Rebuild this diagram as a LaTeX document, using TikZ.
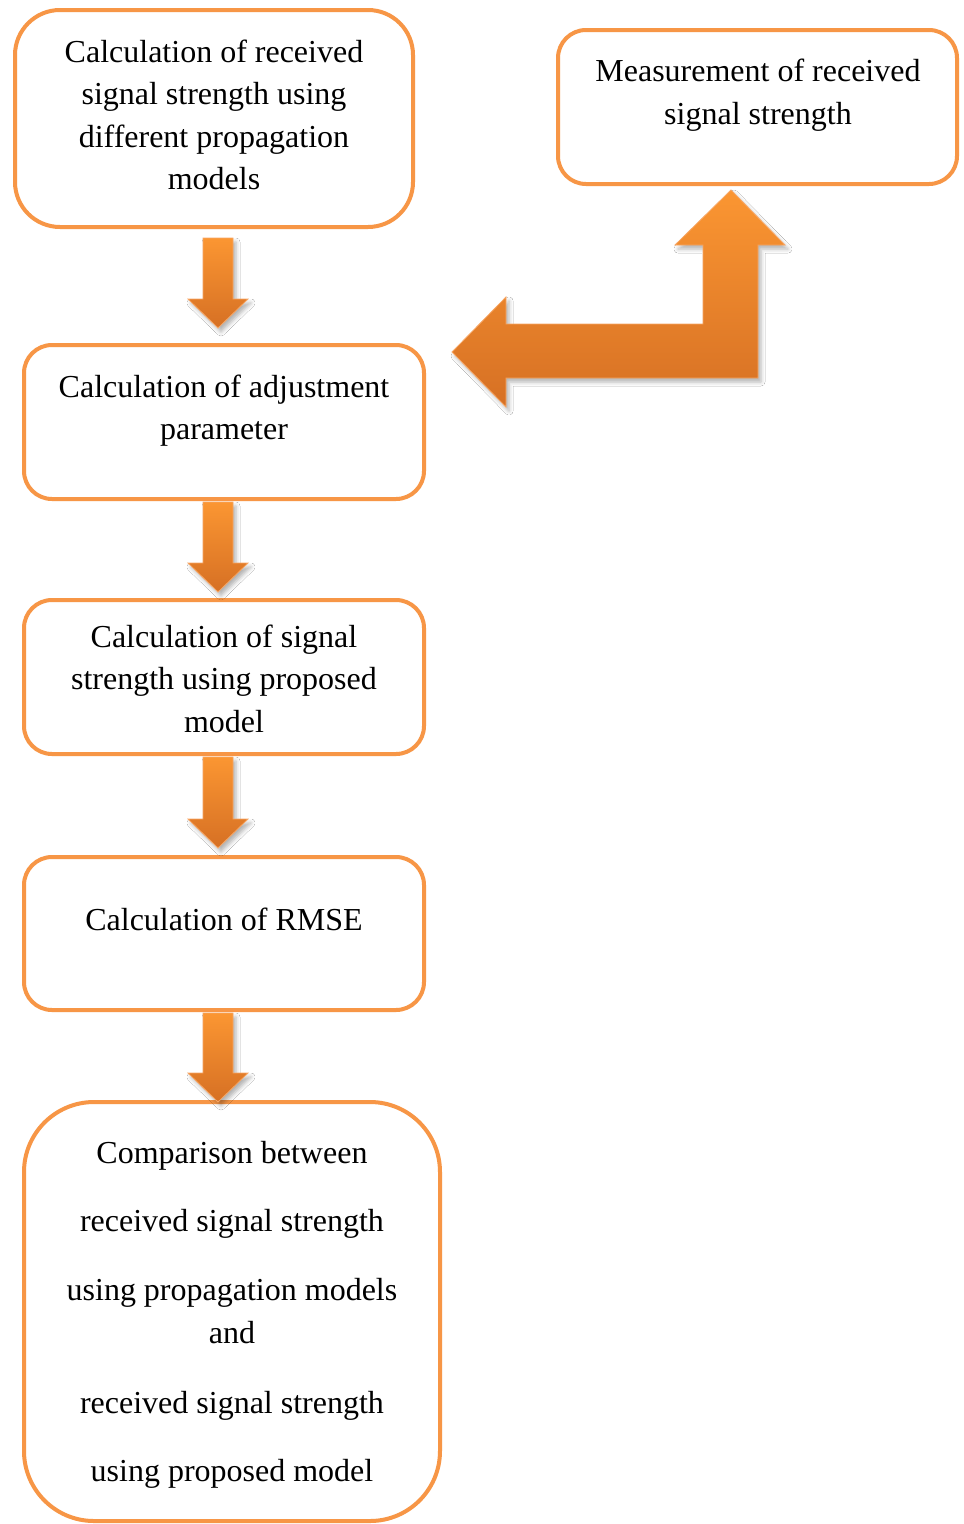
\documentclass[tikz,border=0pt]{standalone}
\usepackage{fontspec}
\setmainfont{Liberation Serif}
\usetikzlibrary{calc,shadows.blur}

\definecolor{boxorange}{HTML}{F79646}
\definecolor{arrowtop}{RGB}{251,150,50}
\definecolor{arrowbottom}{RGB}{214,112,36}
\definecolor{arrowedge}{RGB}{247,166,100}

% use the font's own interword space inside the text nodes
\newcommand\fontspaces{\spaceskip=0pt\xspaceskip=0pt\relax}

\tikzset{
  stagebox/.style={draw=boxorange, line width=4pt, fill=white,
    rounded corners=#1, inner sep=0pt, outer sep=0pt, shape=rectangle},
  stagetext/.style={anchor=base, text width=#1, inner sep=0pt,
    font=\fontsize{32}{42.5}\selectfont,
    execute at begin node={\centering\fontspaces}},
  fatarrow/.style={top color=arrowtop, bottom color=arrowbottom,
    draw=arrowedge, line width=0.8pt, line join=miter,
    blur shadow={shadow xshift=3pt, shadow yshift=-4pt,
      shadow blur radius=4pt, shadow opacity=30}},
}

% block arrow pointing down from #1 (tail centre) to #2 (tip)
\newcommand\fatdown[2]{%
  \path[fatarrow] let \p1=(#1), \p2=(#2) in
    (\x1-15pt,\y1) -- (\x1+15pt,\y1) -- (\x1+15pt,\y2+29pt) --
    (\x1+30pt,\y2+29pt) -- (\x2,\y2) -- (\x1-30pt,\y2+29pt) --
    (\x1-15pt,\y2+29pt) -- cycle;}

\begin{document}
\begin{tikzpicture}[x=1pt, y=-1pt]
  \useasboundingbox[fill=white] (0,0) rectangle (964,1524);

  % process boxes
  \node[stagebox=45pt, minimum width=398pt, minimum height=217pt] (b1) at (214,118.5) {};
  \node[stagebox=28pt, minimum width=399pt, minimum height=154pt] (bm) at (757.5,107) {};
  \node[stagebox=28pt, minimum width=400pt, minimum height=154pt] (b2) at (224,422) {};
  \node[stagebox=28pt, minimum width=400pt, minimum height=154pt] (b3) at (224,677) {};
  \node[stagebox=28pt, minimum width=400pt, minimum height=153pt] (b4) at (224,933.5) {};
  \node[stagebox=70pt, minimum width=416pt, minimum height=419pt] (b5) at (232,1311.5) {};

  % box texts
  \node[stagetext=390pt] (t1) at (214,62)
    {\fontspaces Calculation of received\\ signal strength using\\ different propagation\\ models};
  \node[stagetext=390pt] (tm) at (758,81)
    {\fontspaces Measurement of received\\[0.5pt] signal strength};
  \node[stagetext=390pt] (t2) at (224,397)
    {\fontspaces Calculation of adjustment\\ parameter};
  \node[stagetext=390pt] (t3) at (224,647)
    {\fontspaces Calculation of signal\\ strength using proposed\\ model};
  \node[stagetext=390pt] (t4) at (224,930)
    {\fontspaces Calculation of RMSE};
  \node[stagetext=400pt] (t5) at (232,1163)
    {\fontspaces Comparison between\\[26pt] received signal strength\\[26.5pt]
     using propagation models\\ and\\[27.5pt] received signal strength\\[25.5pt]
     using proposed model};

  % flow arrows
  \fatdown{$(b1.south)+(4,11)$}{$(b2.north)+(-6,-17)$}
  \fatdown{$(b2.south)+(-6,3)$}{$(b3.north)+(-6,-8)$}
  \fatdown{$(b3.south)+(-6,3)$}{$(b4.north)+(-6,-9)$}
  \fatdown{$(b4.south)+(-6,3)$}{$(b5.north)+(-14,0)$}

  % bent arrow between the measurement box and the adjustment step
  \path[fatarrow] let \p1=($(bm.south)+(-26.5,6)$), \p2=($(b2.east)+(28,-70)$) in
    (\x1,\y1) -- (\x1+54pt,\y1-55pt) -- (\x1+27pt,\y1-55pt) --
    (\x1+27pt,\y2-26pt) -- (\x2+54pt,\y2-26pt) -- (\x2+54pt,\y2-55pt) --
    (\x2,\y2) -- (\x2+54pt,\y2+55pt) -- (\x2+54pt,\y2+28pt) --
    (\x1-28pt,\y2+28pt) -- (\x1-28pt,\y1-55pt) -- (\x1-56pt,\y1-55pt) -- cycle;
\end{tikzpicture}
\end{document}
